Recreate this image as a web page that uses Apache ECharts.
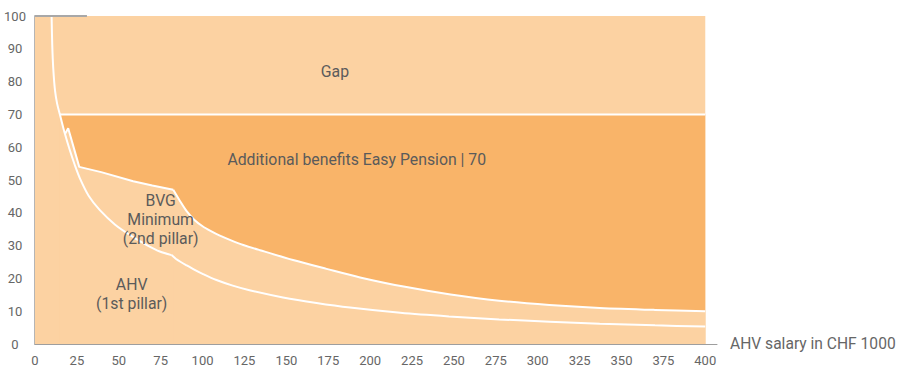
<!DOCTYPE html>
<html>
<head>
<meta charset="utf-8">
<script src="https://cdn.jsdelivr.net/npm/echarts@6/dist/echarts.min.js"></script>
<style>
html,body{margin:0;padding:0;background:#fff;}
#chart{width:900px;height:375px;}
</style>
</head>
<body>
<div id="chart"></div>
<script>
// ---- data ----
const xTicks = [0,25,50,75,100,125,150,175,200,225,250,275,300,325,350,375,400];
const yTicks = [0,10,20,30,40,50,60,70,80,90,100];

// AHV (1st pillar) replacement rate curve
const ahvX = [9.9,10.3,10.9,11.9,13.2,14.9,17.9,20.9,23.8,26.8,32,38.7,48,58.6,67,74.5,81.5,84,87,90.4,95,100,108.3,118,128,148,168,188,218,247,277,307,337,370,400];
const ahvY = [100,91,84,77.5,73.3,69.9,64.0,58.9,54.5,50.5,45.2,40.8,36.3,32.6,30.1,28.2,27.1,26.0,25.0,24.0,22.7,21.4,19.5,17.8,16.4,14.2,12.5,11.1,9.5,8.4,7.5,6.8,6.2,5.7,5.3];
const ahvKinkX = 81.5;

// BVG minimum (AHV + 2nd pillar) upper curve
const bvgX = [17.9,19.8,26.4,39.5,58.6,70,82.5,86.5,90.5,95,100,105,110,117,124.3,134.3,154,174,194,220,248,277,307,337,370,400];
const bvgY = [64.0,65.8,54.0,52.4,49.6,48.3,47.0,43.6,40.5,37.9,35.9,34.4,33.1,31.6,30.2,28.6,25.6,22.9,20.3,17.5,15.1,13.2,11.9,11.0,10.4,10.0];
const bvgKinkX = 82.5;

// Easy Pension target level
const targetLevel = 70;
const targetX = [14.9, 400];
const fullRange = [0, 400];
const topValue = 100;

// text labels
const labelTexts = ['Gap', 'Additional benefits Easy Pension | 70', 'BVG\nMinimum\n(2nd pillar)', 'AHV\n(1st pillar)'];

// ---- build ----
const pts = (xs, ys) => xs.map((x, i) => [x, ys[i]]);
const ahvPts = pts(ahvX, ahvY);
const bvgPts = pts(bvgX, bvgY);
const ahvA = ahvPts.filter(p => p[0] <= ahvKinkX);
const ahvB = ahvPts.filter(p => p[0] >= ahvKinkX);
const bvgA = bvgPts.filter(p => p[0] <= bvgKinkX);
const bvgB = bvgPts.filter(p => p[0] >= bvgKinkX);
const lowerA = ahvPts.filter(p => p[0] >= targetX[0] && p[0] < bvgX[0]).concat(bvgA, [bvgB[1]]);

const LIGHT = '#FCD2A2';
const DARK = '#F9B469';
const TXT = '#5b5b5b';
const FONT = 'Roboto, "Noto Sans", sans-serif';
const SMOOTH = 0.3;

const labelAnchors = [[179, 83], [192, 56.3], [75, 38.0], [57.7, 15.1]];

const fill = (data, color, smooth) => ({type: 'line', data, symbol: 'none', silent: true,
  smooth: smooth ? SMOOTH : false,
  lineStyle: {width: 0}, areaStyle: {color, opacity: 1}});
const white = (data, smooth) => ({type: 'line', data, symbol: 'none', silent: true,
  smooth: smooth ? SMOOTH : false,
  lineStyle: {color: '#fff', width: 2}});

const chart = echarts.init(document.getElementById('chart'), null, {renderer: 'svg'});
chart.setOption({
  animation: false,
  grid: {left: 35, right: 183, top: 16, bottom: 31},
  xAxis: {
    type: 'value', min: 0, max: 407, interval: 25,
    name: 'AHV salary in CHF 1000', nameLocation: 'end', nameGap: 13,
    nameTextStyle: {color: '#666', fontSize: 15.6, fontFamily: FONT},
    axisLine: {show: true, lineStyle: {color: '#9e9e9e', width: 1}},
    axisTick: {show: false},
    splitLine: {show: false},
    axisLabel: {color: '#666', fontSize: 13, fontFamily: FONT, margin: 10, showMaxLabel: false,
      formatter: v => xTicks.includes(v) ? String(v) : ''}
  },
  yAxis: {
    type: 'value', min: 0, max: 100, interval: 10,
    axisLine: {show: true, lineStyle: {color: '#b5b5b5', width: 2}},
    axisTick: {show: false},
    splitLine: {show: false},
    axisLabel: {color: '#666', fontSize: 13, fontFamily: FONT, margin: 20, align: 'center',
      formatter: v => yTicks.includes(v) ? String(v) : ''}
  },
  series: [
    Object.assign(fill(fullRange.map(x => [x, topValue]), LIGHT, false), {
      markLine: {silent: true, symbol: 'none', label: {show: false},
        lineStyle: {color: '#a8a8a8', width: 2, type: 'solid'},
        data: [[{coord: [0, topValue]}, {coord: [31, topValue]}]]}}),
    fill(targetX.map(x => [x, targetLevel]), DARK, false),
    fill(lowerA, LIGHT, false),
    fill(bvgB, LIGHT, true),
    white(ahvA, true),
    white(ahvB, true),
    white(bvgA, false),
    white(bvgB, true),
    white(targetX.map(x => [x, targetLevel]), false)
  ]
});

// text labels placed through the chart's own scales
const gElems = labelAnchors.map((a, i) => {
  const p = chart.convertToPixel({gridIndex: 0}, a);
  return {type: 'text', x: p[0], y: p[1], silent: true, z: 100,
    style: {text: labelTexts[i], fill: TXT, fontSize: 15.8, fontFamily: FONT,
      lineHeight: 19, align: 'center', verticalAlign: 'middle'}};
});
chart.setOption({graphic: {elements: gElems}});
</script>
</body>
</html>
